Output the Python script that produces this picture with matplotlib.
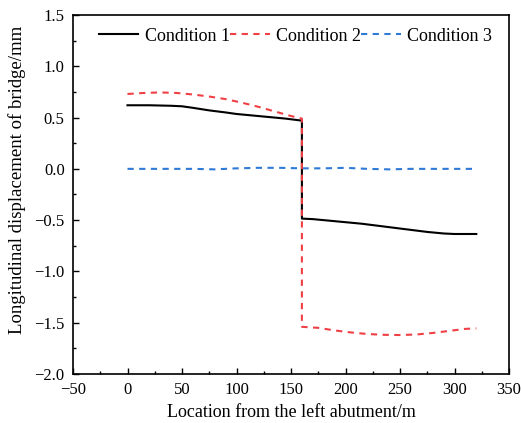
import matplotlib
matplotlib.use("Agg")
import matplotlib.pyplot as plt
from matplotlib.ticker import MultipleLocator, FuncFormatter

x1 = [0, 20, 40, 50, 60, 75, 90, 100, 115, 130, 145, 160, 160, 170, 185, 200, 215, 230, 245, 260, 275, 290, 300, 310, 320]
y1 = [0.62, 0.62, 0.615, 0.61, 0.595, 0.57, 0.55, 0.535, 0.52, 0.505, 0.49, 0.47,
      -0.485, -0.49, -0.505, -0.52, -0.535, -0.555, -0.575, -0.595, -0.615, -0.63, -0.635, -0.635, -0.635]

x2 = [0, 15, 30, 45, 60, 75, 90, 105, 120, 135, 150, 160, 160, 175, 190, 205, 220, 235, 250, 265, 280, 295, 310, 320]
y2 = [0.73, 0.74, 0.745, 0.74, 0.725, 0.705, 0.68, 0.645, 0.605, 0.56, 0.515, 0.49,
      -1.54, -1.55, -1.575, -1.595, -1.61, -1.618, -1.62, -1.615, -1.6, -1.58, -1.56, -1.555]

x3 = [0, 20, 40, 60, 80, 100, 120, 140, 160, 180, 200, 220, 240, 260, 280, 300, 320]
y3 = [0.0, 0.0, 0.0, 0.0, -0.005, 0.005, 0.01, 0.01, 0.005, 0.005, 0.01, 0.0, -0.005, 0.0, 0.0, 0.0, 0.0]

labels = ["Condition 1", "Condition 2", "Condition 3"]

plt.rcParams['font.family'] = ['Liberation Serif', 'DejaVu Serif']
fig = plt.figure(figsize=(5.21, 4.23), dpi=100)
ax = fig.add_axes([73/521, 1 - 374/423, (509-73)/521, (374-15)/423])

ax.plot(x1, y1, color='black', lw=1.5, label=labels[0], zorder=3)
ax.plot(x2, y2, color='#ef4045', lw=1.5, ls=(0, (3, 2.6)), label=labels[1], zorder=4)
ax.plot(x3, y3, color='#2f7ad6', lw=1.5, ls=(0, (3, 2.6)), label=labels[2], zorder=2)

ax.set_xlim(-50, 350)
ax.set_ylim(-2.0, 1.5)
ax.xaxis.set_major_locator(MultipleLocator(50))
ax.xaxis.set_minor_locator(MultipleLocator(25))
ax.yaxis.set_major_locator(MultipleLocator(0.5))
ax.yaxis.set_minor_locator(MultipleLocator(0.25))
ax.tick_params(which='both', direction='in', labelsize=12, top=False, right=False)
ax.tick_params(which='major', length=4, width=1, pad=6)
ax.tick_params(which='minor', length=2.5, width=1)
ax.xaxis.set_major_formatter(FuncFormatter(lambda v, p: f"{v:.0f}".replace('-', '\u2212')))
ax.yaxis.set_major_formatter(FuncFormatter(lambda v, p: f"{v:.1f}".replace('-', '\u2212')))
for s in ax.spines.values():
    s.set_linewidth(1.2)

ax.set_xlabel("Location from the left abutment/m", fontsize=13, labelpad=4)
ax.set_ylabel("Longitudinal displacement of bridge/mm", fontsize=13.5)
ax.yaxis.set_label_coords(-0.108, 0.54)

ax.legend(loc='upper center', bbox_to_anchor=(0.51, 1.0), ncol=3, frameon=False,
          fontsize=13, handlelength=2.2, handletextpad=0.35, columnspacing=0.0,
          borderaxespad=0.3)

fig.savefig("out.png", dpi=100)
